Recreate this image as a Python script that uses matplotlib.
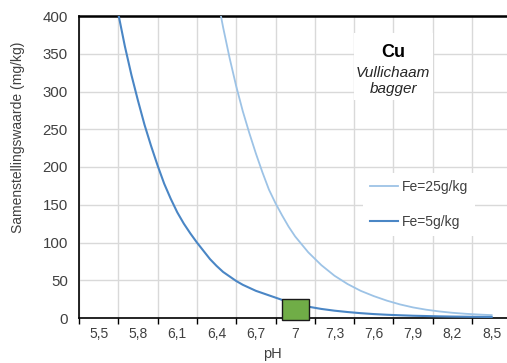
import matplotlib.pyplot as plt
from matplotlib.patches import Rectangle

plt.rcParams['font.family'] = ['Liberation Sans', 'DejaVu Sans']

# Fe=5g/kg curve (pH, samenstellingswaarde)
ph_fe5 = [5.6, 5.65, 5.7, 5.75, 5.8, 5.85, 5.9, 5.95, 6.0, 6.05, 6.1, 6.15, 6.2, 6.25,
          6.3, 6.35, 6.4, 6.45, 6.5, 6.55, 6.6, 6.7, 6.8, 6.9, 7.0,
          7.1, 7.2, 7.3, 7.4, 7.5, 7.6, 7.7, 7.8, 7.9, 8.0, 8.1, 8.2, 8.3, 8.4, 8.5]
val_fe5 = [452, 403, 360, 322, 288, 256, 228, 202, 178, 158, 140, 125, 112, 100,
           89, 78, 69, 61, 55, 49, 44, 36, 30, 24, 19,
           15, 12, 9.7, 7.9, 6.4, 5.2, 4.3, 3.6, 3.0, 2.6, 2.2, 1.9, 1.7, 1.5, 1.3]

# Fe=25g/kg curve
ph_fe25 = [6.4, 6.45, 6.5, 6.55, 6.6, 6.65, 6.7, 6.75, 6.8, 6.85, 6.9, 6.95, 7.0,
           7.1, 7.2, 7.3, 7.4, 7.5, 7.6, 7.7, 7.8, 7.9, 8.0, 8.1, 8.2, 8.3, 8.4, 8.5]
val_fe25 = [430, 385, 344, 307, 274, 245, 218, 193, 170, 152, 136, 121, 108,
            87, 70, 56, 45, 36, 29, 23, 18, 14, 11, 8.7, 6.9, 5.6, 4.6, 3.8]

# meetpunt
sample_ph = [7.0]
sample_val = [11.3]

tick_ph = [5.5, 5.8, 6.1, 6.4, 6.7, 7.0, 7.3, 7.6, 7.9, 8.2, 8.5]
tick_labels = ['5,5', '5,8', '6,1', '6,4', '6,7', '7', '7,3', '7,6', '7,9', '8,2', '8,5']
grid_ph = [5.35, 5.65, 5.95, 6.25, 6.55, 6.85, 7.15, 7.45, 7.75, 8.05, 8.35]

fig = plt.figure(figsize=(5.07, 3.63), dpi=100)
ax = fig.add_axes([79 / 507, 45 / 363, 428 / 507, 302 / 363])

ax.plot(ph_fe25, val_fe25, color='#9DC3E6', lw=1.3, label='Fe=25g/kg', zorder=3)
ax.plot(ph_fe5, val_fe5, color='#4A86C5', lw=1.5, label='Fe=5g/kg', zorder=3)

for x, y in zip(sample_ph, sample_val):
    ax.add_patch(Rectangle((x - 0.103, y - 13.8), 0.206, 27.6, facecolor='#70AD47',
                           edgecolor='#1a1a1a', lw=1.0, zorder=4, clip_on=False))

ax.set_xlim(5.35, 8.617)
ax.set_ylim(0, 400)
ax.set_yticks(range(0, 401, 50))
ax.set_xticks(grid_ph)
ax.set_xticklabels([])
ax.set_xticks(tick_ph, minor=True)
ax.set_xticklabels(tick_labels, minor=True)
ax.tick_params(axis='x', which='major', length=4, width=1, color='black', direction='out')
ax.tick_params(axis='x', which='minor', length=0, pad=6.5, labelsize=10, labelcolor='#404040')
ax.tick_params(axis='y', length=0, pad=8, labelsize=10.8, labelcolor='#404040')

ax.grid(True, which='major', color='#D9D9D9', lw=1.0, zorder=0)
ax.set_axisbelow(True)
for s in ['left', 'bottom', 'top']:
    ax.spines[s].set_color('black')
ax.spines['left'].set_linewidth(1.2)
ax.spines['bottom'].set_linewidth(1.2)
ax.spines['top'].set_linewidth(1.8)
ax.spines['right'].set_visible(False)

ax.set_xlabel('pH', fontsize=10.5, color='#404040')
ax.xaxis.set_label_coords(0.453, -0.095)
ax.set_ylabel('Samenstellingswaarde (mg/kg)', fontsize=10, color='#404040')
ax.yaxis.label.set_va('center')
ax.yaxis.set_label_coords(-0.142, 0.599)

# tekstvak met witte achtergrond
ax.add_patch(Rectangle((0.643, 0.722), 0.184, 0.222, transform=ax.transAxes,
                       facecolor='white', edgecolor='none', zorder=2))
ax.text(0.734, 0.864, 'Cu', transform=ax.transAxes, ha='center', va='baseline',
        fontsize=13, fontweight='bold', zorder=5)
ax.text(0.734, 0.798, 'Vullichaam', transform=ax.transAxes, ha='center', va='baseline',
        fontsize=11, style='italic', color='#262626', zorder=5)
ax.text(0.734, 0.745, 'bagger', transform=ax.transAxes, ha='center', va='baseline',
        fontsize=11, style='italic', color='#262626', zorder=5)

leg = ax.legend(loc='center left', bbox_to_anchor=(0.664, 0.377), borderaxespad=0,
                frameon=True, fancybox=False, facecolor='white', edgecolor='none',
                framealpha=1, fontsize=10, handlelength=2.0, handletextpad=0.3,
                labelspacing=1.5, borderpad=0.5)
for t in leg.get_texts():
    t.set_color('#404040')

fig.savefig('out.png', dpi=100)
